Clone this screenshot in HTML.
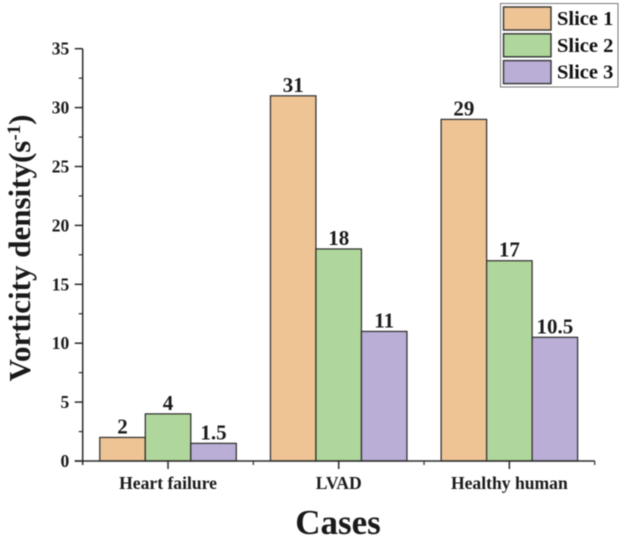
<!DOCTYPE html>
<html>
<head>
<meta charset="utf-8">
<style>
html,body{margin:0;padding:0;background:#fff;}
svg{display:block;filter:blur(0.4px);}
text{font-family:"Liberation Serif",serif;font-weight:bold;fill:#1a1a1a;}
</style>
</head>
<body>
<svg id="chart" width="620" height="542" viewBox="0 0 620 542" xmlns="http://www.w3.org/2000/svg">
<g id="bars"></g>
<g id="axes"></g>
<text transform="translate(30,248) rotate(-90)" text-anchor="middle" font-size="31">Vorticity density(s<tspan dy="-10" font-size="19">-1</tspan><tspan dy="10">)</tspan></text>
<text x="338" y="534" text-anchor="middle" font-size="35">Cases</text>
<g id="legend">
<rect x="500.5" y="3.5" width="117.5" height="83.5" fill="#fff" stroke="#777" stroke-width="1"/>
</g>
</svg>
<script>
const categories = ['Heart failure', 'LVAD', 'Healthy human'];
const seriesNames = ['Slice 1', 'Slice 2', 'Slice 3'];
const slice1 = [2, 31, 29];
const slice2 = [4, 18, 17];
const slice3 = [1.5, 11, 10.5];
const yTicks = [0, 5, 10, 15, 20, 25, 30, 35];
const seriesValues = [slice1, slice2, slice3];
const seriesColors = ['#eec495', '#afd69b', '#bbaed6'];

const NS = 'http://www.w3.org/2000/svg';
const plotLeft = 82.7, plotRight = 594.7, plotBottom = 461, plotTop = 48.7;
const yMax = 35;
const bandWidth = (plotRight - plotLeft) / categories.length;
const barWidth = bandWidth * 0.8 / seriesValues.length;
const axisColor = '#2a2a2a';

function yScale(v) { return plotBottom - (v / yMax) * (plotBottom - plotTop); }
function xBand(i) { return plotLeft + bandWidth * (i + 0.5); }
function xBar(i, s) { return xBand(i) - barWidth * seriesValues.length / 2 + barWidth * s; }
function make(tag, attrs, parent, txt) {
  const el = document.createElementNS(NS, tag);
  for (const k in attrs) el.setAttribute(k, attrs[k]);
  if (txt !== undefined) el.textContent = txt;
  parent.appendChild(el);
  return el;
}

const barsG = document.getElementById('bars');
const axesG = document.getElementById('axes');
const legendG = document.getElementById('legend');

seriesValues.forEach(function (vals, s) {
  vals.forEach(function (v, i) {
    const x = xBar(i, s), y = yScale(v);
    const bar = make('rect', { x: x, y: y, width: barWidth, height: plotBottom - y, fill: seriesColors[s], stroke: axisColor, 'stroke-width': 1.2 }, barsG);
    
    
    const label = make('text', { x: x + barWidth / 2, y: y - 4, 'text-anchor': 'middle', 'font-size': 21 }, barsG, String(v));
    
    
  });
});

const yLine = make('line', { x1: plotLeft, x2: plotLeft, y1: plotTop, y2: plotBottom + 4, stroke: axisColor, 'stroke-width': 1.5 }, axesG);


const xLine = make('line', { x1: plotLeft - 8, x2: plotRight, y1: plotBottom, y2: plotBottom, stroke: axisColor, 'stroke-width': 1.5 }, axesG);



yTicks.forEach(function (t, idx) {
  const y = yScale(t);
  const tick = make('line', { x1: plotLeft - 8, x2: plotLeft, y1: y, y2: y, stroke: axisColor, 'stroke-width': 1.5 }, axesG);
  
  
  const label = make('text', { x: plotLeft - 13.5, y: y + 6, 'text-anchor': 'end', 'font-size': 17.5 }, axesG, String(t));
  
  
  if (idx < yTicks.length - 1) {
    const my = yScale((t + yTicks[idx + 1]) / 2);
    const minor = make('line', { x1: plotLeft - 4, x2: plotLeft, y1: my, y2: my, stroke: axisColor, 'stroke-width': 1.2 }, axesG);
    
    
  }
});

categories.forEach(function (c, i) {
  const x = xBand(i);
  const tick = make('line', { x1: x, x2: x, y1: plotBottom, y2: plotBottom + 8, stroke: axisColor, 'stroke-width': 1.5 }, axesG);
  
  
  const bx = plotLeft + bandWidth * (i + 1);
  const minor = make('line', { x1: bx, x2: bx, y1: plotBottom, y2: plotBottom + 4, stroke: axisColor, 'stroke-width': 1.2 }, axesG);
  
  
  const label = make('text', { x: x, y: 489, 'text-anchor': 'middle', 'font-size': 17.6 }, axesG, c);
  
  
});

seriesNames.forEach(function (n, s) {
  const top = 7 + s * 26.8;
  const swatch = make('rect', { x: 503.5, y: top, width: 47.5, height: 23, fill: seriesColors[s], stroke: '#333', 'stroke-width': 1.4 }, legendG);
  
  
  const label = make('text', { x: 557, y: top + 18, 'font-size': 20.5, style: 'fill:#111' }, legendG, n);
  
  
});
</script>
</body>
</html>
